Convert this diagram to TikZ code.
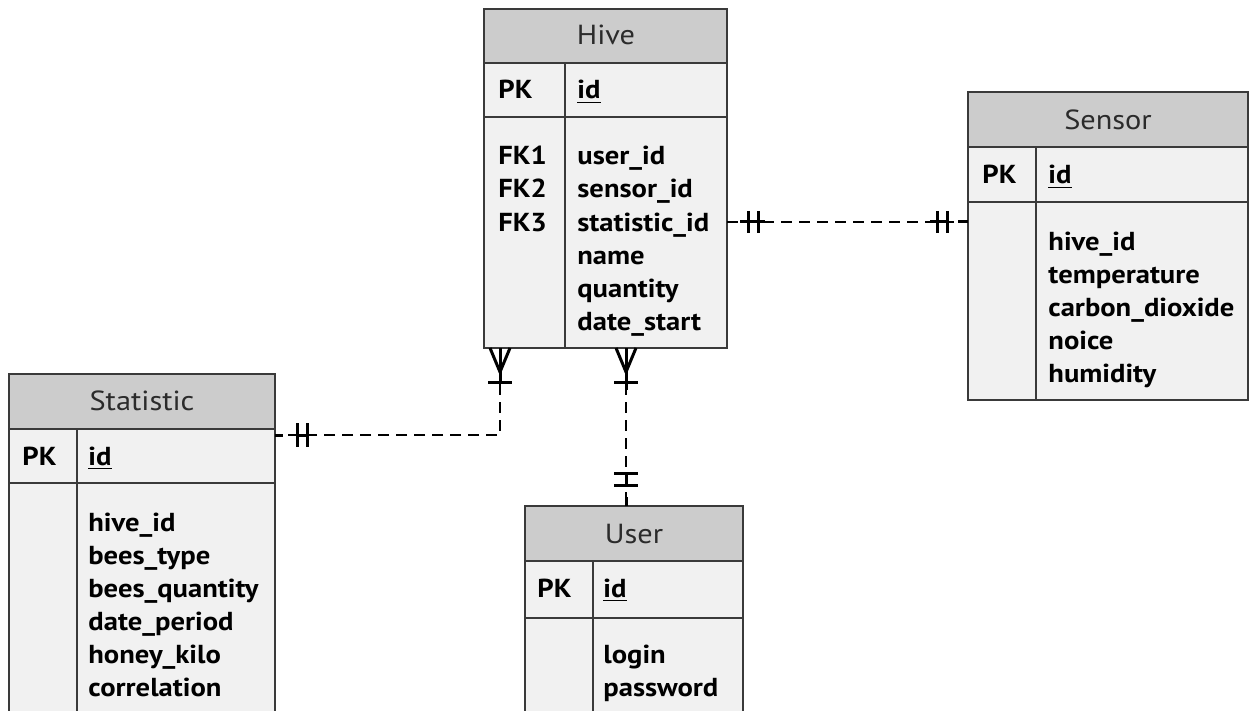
\documentclass[tikz,border=0pt]{standalone}
\usepackage{fontspec}
\setmainfont{PT Sans}[FakeStretch=1.1]
\usetikzlibrary{fit}
\definecolor{hdrgray}{HTML}{CCCCCC}
\definecolor{bodygray}{HTML}{F1F1F1}
\definecolor{bordercol}{HTML}{3A3A3A}
\definecolor{titlecol}{HTML}{2B2B2B}
\begin{document}
\begin{tikzpicture}[x=0.5pt,y=-0.5pt,
  tablebox/.style={draw=bordercol, line width=0.8pt, fill=bodygray, inner sep=0pt},
  hdrfill/.style={fill=hdrgray},
  sep/.style={draw=bordercol, line width=0.8pt},
  ttl/.style={font=\fontsize{13.8}{16}\selectfont, text=titlecol, anchor=base, inner sep=0pt},
  fld/.style={font=\bfseries\fontsize{13}{15}\selectfont, anchor=base west, inner sep=0pt},
  rel/.style={line width=1.3pt, dash pattern=on 5.5pt off 3.5pt},
  tick/.style={line width=1.5pt}]
\useasboundingbox (0,0) rectangle (1251,711);
\clip (0,0) rectangle (1251,711);

% ---------------- Hive ----------------
\node[tablebox, fit={(484,9) (727,348)}] (hive) {};
\fill[hdrfill] (484,9) rectangle (727,63);
\draw[sep] (484,9) rectangle (727,348);
\draw[sep] (484,63) -- (727,63);
\draw[sep] (484,117) -- (727,117);
\draw[sep] (565,63) -- (565,348);
\node[ttl] (hiveT) at (606,45) {Hive};
\node[fld] (hivePK) at (498,99) {PK};
\node[fld] (hiveId) at (577,99) {\underline{id}};
\node[fld] (hiveFK1) at (498,165) {FK1};
\node[fld] (hiveFK2) at (498,198) {FK2};
\node[fld] (hiveFK3) at (498,231) {FK3};
\node[fld] (hiveF1) at (577,165) {user\_id};
\node[fld] (hiveF2) at (577,198) {sensor\_id};
\node[fld] (hiveF3) at (577,231) {statistic\_id};
\node[fld] (hiveF4) at (577,264) {name};
\node[fld] (hiveF5) at (577,297) {quantity};
\node[fld] (hiveF6) at (577,330) {date\_start};

% ---------------- Sensor ----------------
\node[tablebox, fit={(968,92) (1248,400)}] (sensor) {};
\fill[hdrfill] (968,92) rectangle (1248,147);
\draw[sep] (968,92) rectangle (1248,400);
\draw[sep] (968,147) -- (1248,147);
\draw[sep] (968,202) -- (1248,202);
\draw[sep] (1036,147) -- (1036,400);
\node[ttl] (sensT) at (1108,130) {Sensor};
\node[fld] (sensPK) at (982,184) {PK};
\node[fld] (sensId) at (1048,184) {\underline{id}};
\node[fld] (sensF1) at (1048,250) {hive\_id};
\node[fld] (sensF2) at (1048,283) {temperature};
\node[fld] (sensF3) at (1048,316) {carbon\_dioxide};
\node[fld] (sensF4) at (1048,349) {noice};
\node[fld] (sensF5) at (1048,382) {humidity};

% ---------------- Statistic ----------------
\node[tablebox, fit={(9,374) (275,716)}] (stat) {};
\fill[hdrfill] (9,374) rectangle (275,429);
\draw[sep] (9,374) rectangle (275,716);
\draw[sep] (9,429) -- (275,429);
\draw[sep] (9,483) -- (275,483);
\draw[sep] (77,429) -- (77,716);
\node[ttl] (statT) at (142,410) {Statistic};
\node[fld] (statPK) at (22,465) {PK};
\node[fld] (statId) at (88,465) {\underline{id}};
\node[fld] (statF1) at (88,531) {hive\_id};
\node[fld] (statF2) at (88,564) {bees\_type};
\node[fld] (statF3) at (88,597) {bees\_quantity};
\node[fld] (statF4) at (88,630) {date\_period};
\node[fld] (statF5) at (88,663) {honey\_kilo};
\node[fld] (statF6) at (88,696) {correlation};

% ---------------- User ----------------
\node[tablebox, fit={(525,506) (743,716)}] (user) {};
\fill[hdrfill] (525,506) rectangle (743,561);
\draw[sep] (525,506) rectangle (743,716);
\draw[sep] (525,561) -- (743,561);
\draw[sep] (525,618) -- (743,618);
\draw[sep] (593,561) -- (593,716);
\node[ttl] (userT) at (634,543) {User};
\node[fld] (userPK) at (537,597) {PK};
\node[fld] (userId) at (603,597) {\underline{id}};
\node[fld] (userF1) at (603,663) {login};
\node[fld] (userF2) at (603,696) {password};

% ---------------- Relations ----------------
% Hive -- Sensor
\coordinate (hsA) at (727,222);
\coordinate (hsB) at (968,222);
\draw[rel] (hsA) -- (hsB);
\draw[tick] (740,222) -- (765,222);
\draw[tick] (748,211) -- (748,233);
\draw[tick] (758,211) -- (758,233);
\draw[tick] (930,222) -- (947,222);
\draw[tick] (937,211) -- (937,233);
\draw[tick] (947,211) -- (947,233);
\draw[tick] (958,222) -- (hsB);

% Hive -- Statistic
\coordinate (hstA) at (500,348);
\coordinate (hstK) at (500,435);
\coordinate (hstB) at (275,435);
\draw[rel] (hstA) -- (hstK) -- (hstB);
\draw[tick] (490,348) -- (500,372) -- (510,348);
\draw[tick] (hstA) -- (500,382);
\draw[tick] (488,382) -- (512,382);
\draw[tick] (hstB) -- (283,435);
\draw[tick] (297,435) -- (307,435);
\draw[tick] (297,423) -- (297,447);
\draw[tick] (307,423) -- (307,447);

% Hive -- User
\coordinate (huA) at (626,348);
\coordinate (huB) at (626,506);
\draw[rel] (huA) -- (huB);
\draw[tick] (616,348) -- (626,372) -- (636,348);
\draw[tick] (huA) -- (626,390);
\draw[tick] (614,382) -- (638,382);
\draw[tick] (626,473) -- (626,485);
\draw[tick] (614,473) -- (638,473);
\draw[tick] (614,485) -- (638,485);
\draw[tick] (626,497) -- (huB);
\end{tikzpicture}
\end{document}
